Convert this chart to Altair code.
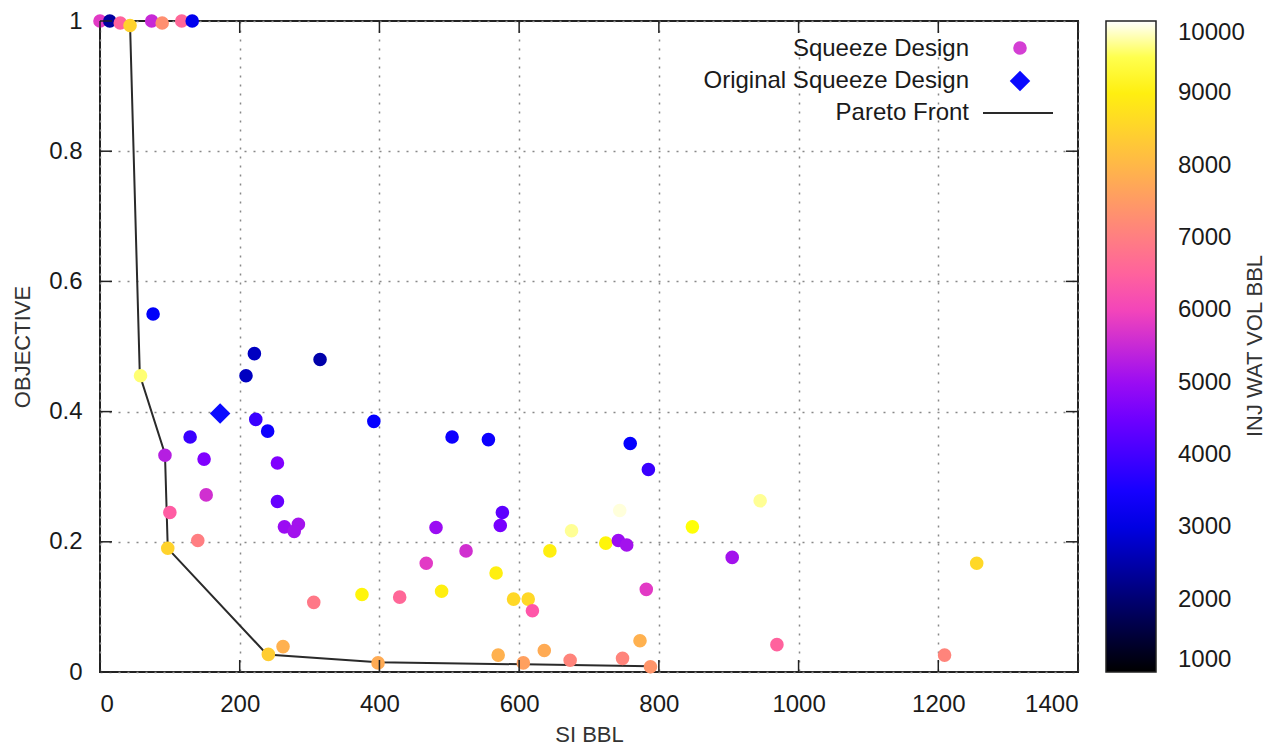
import altair as alt
import pandas as pd

# ---- data ----
si_bbl = [0, 14, 29, 43, 74, 89, 117, 132,
          76, 221, 315, 209, 58, 223, 240, 129, 93, 149, 254, 152, 254, 100,
          264, 284, 278, 140, 97, 392, 504, 556, 576, 573, 481, 675, 524, 644,
          467, 567, 759, 785, 945, 744, 848, 724, 742, 754, 905, 782, 773, 969,
          673, 748, 788, 1255, 1209, 592, 613, 619, 570, 606, 636, 306, 375,
          429, 489, 262, 241, 398]
objective = [1.0, 1.0, 0.997, 0.993, 1.0, 0.997, 1.0, 1.0,
             0.550, 0.489, 0.480, 0.455, 0.455, 0.388, 0.370, 0.361, 0.333, 0.327,
             0.321, 0.272, 0.262, 0.245, 0.223, 0.227, 0.216, 0.202, 0.190, 0.385,
             0.361, 0.357, 0.245, 0.225, 0.222, 0.217, 0.186, 0.186, 0.167, 0.152,
             0.351, 0.311, 0.263, 0.248, 0.223, 0.198, 0.202, 0.195, 0.176, 0.127,
             0.048, 0.042, 0.018, 0.021, 0.008, 0.167, 0.026, 0.112, 0.112, 0.094,
             0.026, 0.014, 0.033, 0.107, 0.119, 0.115, 0.124, 0.039, 0.027, 0.014]
inj_wat_vol = [5800, 2400, 6500, 8500, 5500, 7300, 6600, 3100,
               3200, 2700, 2500, 2700, 9600, 3900, 3400, 3900, 5300, 4700,
               4700, 5600, 4400, 6400, 5000, 5100, 5100, 7000, 8500, 3300,
               3400, 3400, 4300, 4600, 5000, 9700, 5600, 9000, 5800, 9000,
               3300, 3900, 9700, 9900, 9300, 9100, 5000, 5100, 5100, 5800,
               7900, 6500, 7100, 7100, 7400, 8600, 7100, 8600, 8600, 6300,
               7900, 7600, 7800, 6900, 9100, 6600, 9000, 7900, 8400, 7800]

orig_si = [172]
orig_obj = [0.397]

pareto_si = [0, 43, 57, 93, 97, 239, 398, 787]
pareto_obj = [1.0, 0.995, 0.456, 0.335, 0.190, 0.027, 0.015, 0.009]

x_ticks = [0, 200, 400, 600, 800, 1000, 1200, 1400]
y_ticks = [0, 0.2, 0.4, 0.6, 0.8, 1.0]
cb_ticks = [1000, 2000, 3000, 4000, 5000, 6000, 7000, 8000, 9000, 10000]

# ---- gnuplot palette rgbformulae 30,31,32 (style) ----
def _clip(v):
    return max(0.0, min(1.0, v))

def _pal(t):
    r = _clip(t / 0.32 - 0.78125)
    g = _clip(2 * t - 0.84)
    if t < 0.25:
        b = 4 * t
    elif t < 0.42:
        b = 1.0
    elif t < 0.92:
        b = -2 * t + 1.84
    else:
        b = t / 0.08 - 11.5
    b = _clip(b)
    return "#%02x%02x%02x" % (round(r * 255), round(g * 255), round(b * 255))

N_STOPS = 101
palette = [_pal(i / (N_STOPS - 1)) for i in range(N_STOPS)]

FONT = "Liberation Sans"
FS = 24          # tick labels / key
TFS = 22         # axis titles
W, H = 978, 651
TOP = 13

df = pd.DataFrame({"si": si_bbl, "obj": objective, "vol": inj_wat_vol})
df_orig = pd.DataFrame({"si": orig_si, "obj": orig_obj})
df_par = pd.DataFrame({"si": pareto_si, "obj": pareto_obj, "o": list(range(len(pareto_si)))})
df_xt = pd.DataFrame({"t": x_ticks})
df_yt = pd.DataFrame({"t": y_ticks})

xscale = alt.Scale(domain=[0, 1400], nice=False, zero=False)
yscale = alt.Scale(domain=[0, 1], nice=False, zero=False)

x_enc = alt.X("si:Q", scale=xscale, title="SI BBL",
              axis=alt.Axis(values=x_ticks, grid=True, ticks=False, domain=False,
                            labelPadding=20, titlePadding=8, format="d"))
y_enc = alt.Y("obj:Q", scale=yscale, title="OBJECTIVE",
              axis=alt.Axis(values=y_ticks, grid=True, ticks=False, domain=False,
                            labelPadding=18, titlePadding=14, format="~g"))

pts = alt.Chart(df).mark_circle(size=185, opacity=1).encode(
    x=x_enc,
    y=y_enc,
    color=alt.Color("vol:Q",
                    scale=alt.Scale(domain=[1000, 10000], range=palette, interpolate="rgb"),
                    legend=alt.Legend(title=None, orient="none",
                                      legendX=1006, legendY=0, direction="vertical",
                                      gradientLength=H, gradientThickness=50,
                                      gradientStrokeColor="#222", gradientStrokeWidth=1.5,
                                      values=cb_ticks, labelOverlap=False, format="d",
                                      labelFontSize=FS, labelFont=FONT, labelColor="#1a1a1a",
                                      labelOffset=22)),
)

orig = alt.Chart(df_orig).mark_point(shape="diamond", filled=True, size=420,
                                     color="#0a0aff", opacity=1).encode(
    x=alt.X("si:Q", scale=xscale), y=alt.Y("obj:Q", scale=yscale))

par = alt.Chart(df_par).mark_line(color="#2a2a2a", strokeWidth=2).encode(
    x=alt.X("si:Q", scale=xscale), y=alt.Y("obj:Q", scale=yscale), order="o:Q")

tick_style = dict(color="#222", strokeWidth=1.5)
xt_bot = alt.Chart(df_xt).mark_rule(**tick_style).encode(
    x=alt.X("t:Q", scale=xscale), y=alt.value(H), y2=alt.value(H - 12))
xt_top = alt.Chart(df_xt).mark_rule(**tick_style).encode(
    x=alt.X("t:Q", scale=xscale), y=alt.value(0), y2=alt.value(12))
yt_left = alt.Chart(df_yt).mark_rule(**tick_style).encode(
    y=alt.Y("t:Q", scale=yscale), x=alt.value(0), x2=alt.value(12))
yt_right = alt.Chart(df_yt).mark_rule(**tick_style).encode(
    y=alt.Y("t:Q", scale=yscale), x=alt.value(W), x2=alt.value(W - 12))

# ---- manual key (top right, labels left of samples) ----
def key_text(label, ypix):
    return alt.Chart(pd.DataFrame({"l": [label]})).mark_text(
        align="right", baseline="middle", font=FONT, fontSize=FS, color="#1a1a1a"
    ).encode(text="l:N", x=alt.value(869), y=alt.value(ypix))

k1 = key_text("Squeeze Design", 28)
k2 = key_text("Original Squeeze Design", 60)
k3 = key_text("Pareto Front", 92)
ks1 = alt.Chart(pd.DataFrame({"a": [0]})).mark_circle(size=185, color="#d43fd4", opacity=1).encode(
    x=alt.value(920), y=alt.value(27))
ks2 = alt.Chart(pd.DataFrame({"a": [0]})).mark_point(shape="diamond", filled=True, size=420,
                                                     color="#0a0aff", opacity=1).encode(
    x=alt.value(920), y=alt.value(60))
ks3 = alt.Chart(pd.DataFrame({"a": [0]})).mark_rule(color="#2a2a2a", strokeWidth=2).encode(
    x=alt.value(883), x2=alt.value(953), y=alt.value(92))

# colour bar title (rotated, right of the bar labels)
cb_title = alt.Chart(pd.DataFrame({"l": ["INJ WAT VOL BBL"]})).mark_text(
    align="center", baseline="middle", angle=270, font=FONT, fontSize=TFS, color="#333"
).encode(text="l:N", x=alt.value(1155), y=alt.value(325))

chart = alt.layer(
    par, pts, orig, xt_bot, xt_top, yt_left, yt_right, k1, k2, k3, ks1, ks2, ks3, cb_title
).properties(
    width=W, height=H,
    autosize=alt.AutoSizeParams(type="none"),
    padding={"left": 92, "top": TOP, "right": 190, "bottom": 740 - TOP - H},
).configure_view(
    stroke="#222", strokeWidth=2
).configure_axis(
    labelFont=FONT, labelFontSize=FS, labelColor="#1a1a1a",
    titleFont=FONT, titleFontSize=TFS, titleFontWeight="normal", titleColor="#333",
    gridColor="#888", gridDash=[2, 7], gridWidth=1.5,
)

chart.save("out.html", embed_options={"renderer": "svg", "actions": False})
